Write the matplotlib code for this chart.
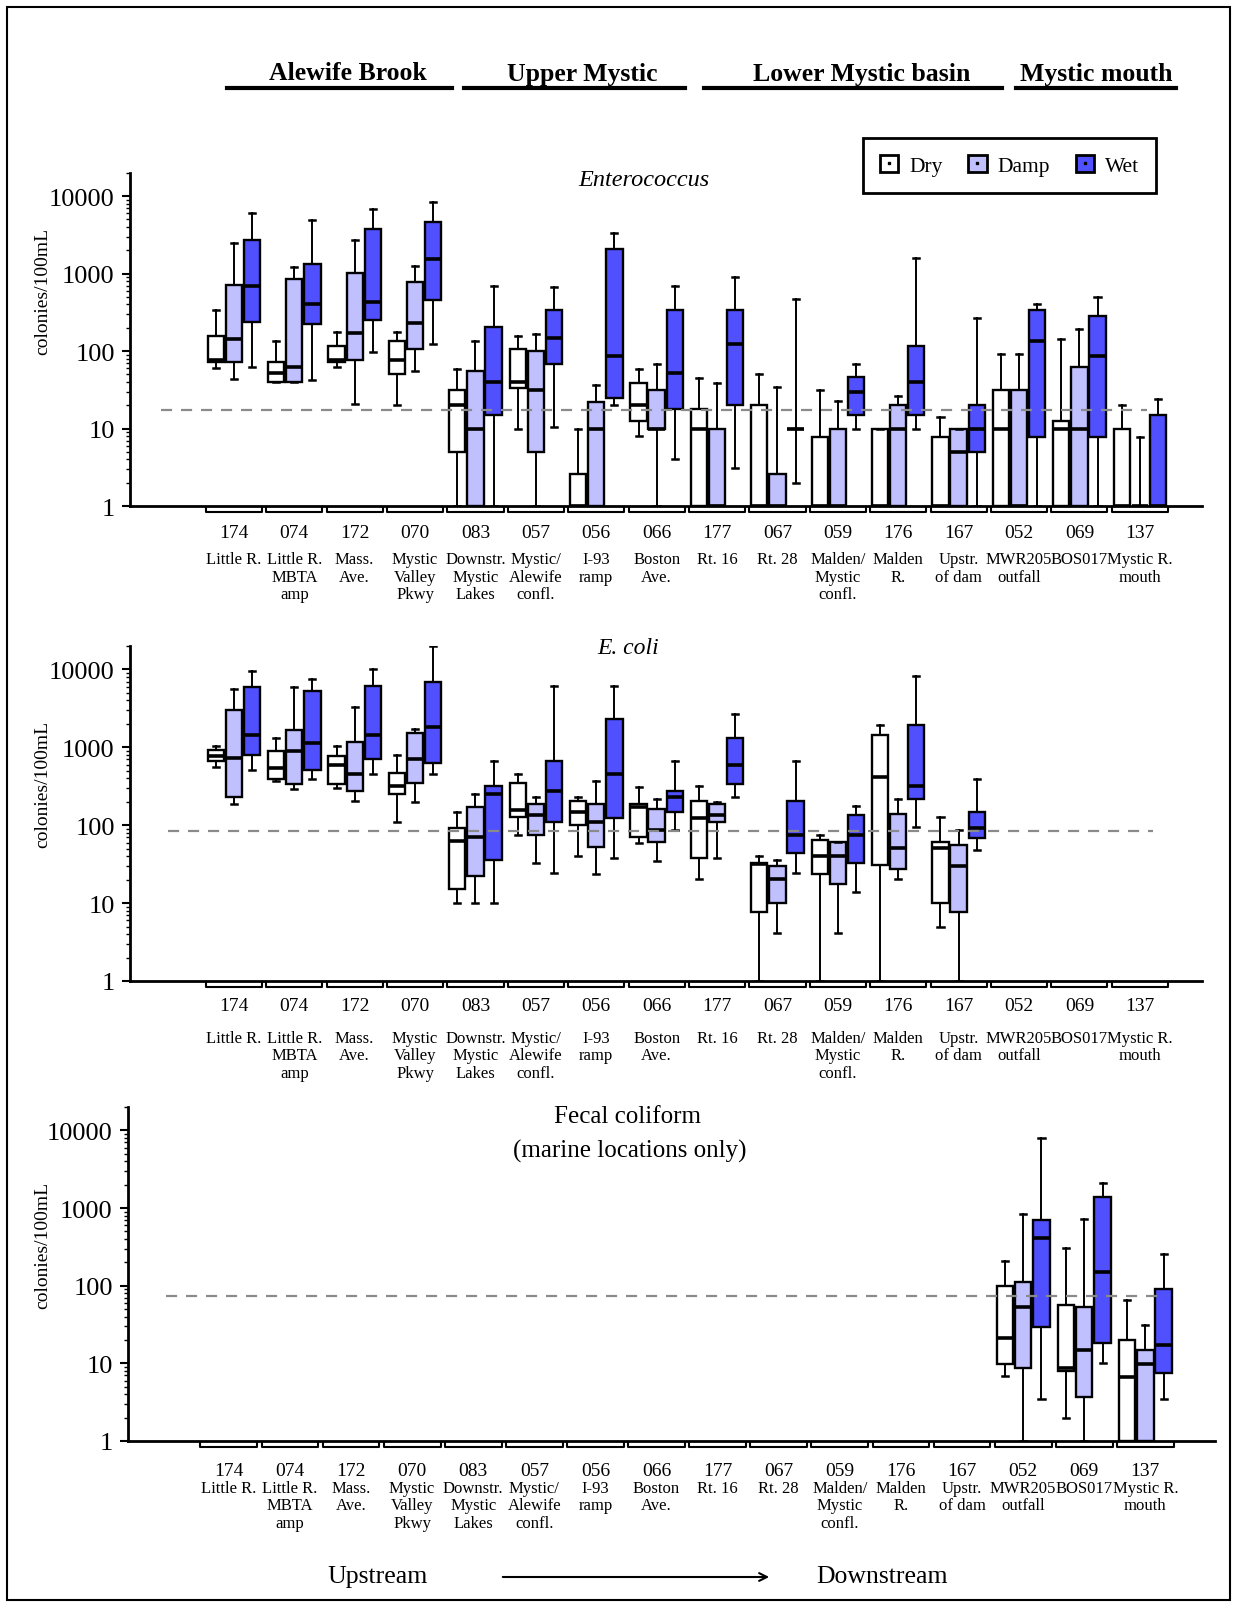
import matplotlib
matplotlib.use("Agg")
import matplotlib.pyplot as plt
from matplotlib.patches import Patch, Rectangle, FancyArrowPatch
from matplotlib.lines import Line2D
from matplotlib.legend_handler import HandlerTuple

plt.rcParams["font.family"] = ["Liberation Serif", "DejaVu Serif"]

W, H = 1233, 1608

sites = ["174", "074", "172", "070", "083", "057", "056", "066",
         "177", "067", "059", "176", "167", "052", "069", "137"]
site_names = [["Little R."], ["Little R.", "MBTA", "amp"], ["Mass.", "Ave."],
              ["Mystic", "Valley", "Pkwy"], ["Downstr.", "Mystic", "Lakes"],
              ["Mystic/", "Alewife", "confl."], ["I-93", "ramp"], ["Boston", "Ave."],
              ["Rt. 16"], ["Rt. 28"], ["Malden/", "Mystic", "confl."], ["Malden", "R."],
              ["Upstr.", "of dam"], ["MWR205", "outfall"], ["BOS017"], ["Mystic R.", "mouth"]]
conditions = ["Dry", "Damp", "Wet"]
regions = ["Alewife Brook", "Upper Mystic", "Lower Mystic basin", "Mystic mouth"]

# box stats per site: (whisker low, q1, median, q3, whisker high)
ent_dry = [(61, 73, 76, 156, 343), (40, 40, 52, 73, 134), (62, 72, 76, 116, 174),
           (20, 51, 76, 134, 174), (1, 5, 20, 31.5, 59), (10, 33, 40, 105, 156),
           (1, 1, 1, 2.55, 10), (8.1, 12.6, 20.4, 38.4, 59), (1, 1, 10, 17.8, 44.5),
           (1, 1, 1, 20.4, 51), (1, 1, 1, 7.8, 31.5), (1, 1, 1, 10, 10),
           (1, 1, 1, 7.8, 13.9), (1, 1, 10, 31.5, 91.5), (1, 1, 10, 12.6, 141),
           (1, 1, 1, 10, 20.4)]
ent_damp = [(44, 73, 141, 705, 2466), (40, 40, 62, 850, 1200), (21, 76, 172, 1025, 2722),
            (56, 105, 229, 770, 1261), (1, 1, 10, 56, 134), (1, 5, 31.5, 101, 164),
            (1, 1, 10, 22.3, 36.6), (1, 10, 10, 31.5, 69), (1, 1, 1, 10, 38.4),
            (1, 1, 1, 2.55, 34.8), (1, 1, 1, 10, 22.5), (1, 1, 10, 20.4, 25.9),
            (1, 1, 5, 10, 10), (1, 1, 1, 31.5, 91.5), (1, 1, 10, 62, 190),
            (1, 1, 1, 1, 7.8)]
ent_wet = [(62, 240, 698, 2722, 5990), (42, 220, 410, 1312, 4870), (96, 253, 435, 3800, 6810),
           (122, 452, 1536, 4630, 8290), (1, 15, 40, 207, 698), (10.4, 69, 148, 336, 671),
           (20, 25, 87, 2044, 3315), (4.06, 17.8, 52, 336, 698), (3.08, 20.4, 122, 336, 893),
           (2.0, 10, 10, 10, 475), (10, 15, 30, 46.4, 69), (10, 15, 40, 116, 1597),
           (1, 5, 10, 20.4, 263), (1, 7.8, 134, 336, 410), (1, 7.8, 87, 282, 504),
           (1, 1, 1, 15, 23.7)]

eco_dry = [(551, 664, 778, 938, 1025), (372, 390, 545, 893, 1312), (305, 336, 602, 770, 1025),
           (110, 250, 320, 470, 809), (9.9, 15.2, 62, 91, 148), (75, 128, 156, 353, 448),
           (40, 100, 148, 207, 227), (59, 71.5, 170, 188, 311), (20.4, 38, 122, 207, 320),
           (1, 7.7, 31.5, 32.8, 40), (1, 23.5, 40, 65, 75), (1, 31.2, 410, 1448, 1928),
           (5, 10, 51, 61.8, 128), None, None, None]
eco_damp = [(188, 227, 733, 2972, 5590), (290, 336, 893, 1679, 5870), (207, 276, 448, 1188, 3280),
            (197, 353, 698, 1506, 1745), (10, 22.3, 71.5, 172, 255), (32.8, 75, 134, 188, 229),
            (23.5, 53, 110, 188, 372), (34.8, 61.8, 87, 162, 218), (38, 110, 134, 188, 197),
            (4.1, 9.9, 20.4, 30, 36), (4.1, 17.6, 40, 61.8, 61.8), (20.4, 27.2, 51, 141, 218),
            (1, 7.7, 30, 56, 86), None, None, None]
eco_wet = [(519, 801, 1433, 5870, 9520), (390, 519, 1132, 5320, 7510), (448, 698, 1433, 6170, 10000),
           (448, 632, 1834, 6810, 20100), (10, 36, 250, 320, 664), (24.7, 110, 276, 664, 6170),
           (38, 122, 448, 2323, 6170), (86, 148, 231, 276, 664), (231, 336, 602, 1312, 2695),
           (24.7, 44, 75, 207, 664), (13.8, 32.8, 75, 134, 179), (95, 218, 320, 1928, 8210),
           (48.7, 68, 91.5, 148, 390), None, None, None]

fc_dry = [None] * 13 + [(6.9, 9.7, 21.4, 100, 208), (1.96, 8.0, 8.8, 55.8, 305),
                        (1, 1, 6.6, 20.2, 64.7)]
fc_damp = [None] * 13 + [(1, 8.8, 53.6, 110, 845), (1, 3.7, 15, 53, 729),
                         (1, 1, 9.7, 15, 31.2)]
fc_wet = [None] * 13 + [(3.5, 29.7, 411, 694, 7890), (10.2, 18.3, 148, 1372, 2100),
                        (3.5, 7.6, 17.4, 90.6, 253)]

ref_levels = [17.5, 84, 74]

colors = ["white", "#C0C0FF", "#5050FF"]
offsets = [-0.30, 0.0, 0.30]


def fx(px):
    return px / W


def fy(py):
    return 1 - py / H


fig = plt.figure(figsize=(W / 100, H / 100), dpi=100)


def draw_panel(rect, data, xlim, ref, ref_span, num_off, name_off):
    ax = fig.add_axes(rect)
    for series, color, off in zip(data, colors, offsets):
        stats, pos = [], []
        for i, v in enumerate(series):
            if v is None:
                continue
            lo, q1, med, q3, hi = v
            stats.append(dict(whislo=lo, q1=q1, med=med, q3=q3, whishi=hi, fliers=[]))
            pos.append(i + off)
        if stats:
            ax.bxp(stats, positions=pos, widths=0.27, capwidths=0.1, patch_artist=True,
                   showfliers=False, manage_ticks=False,
                   boxprops=dict(facecolor=color, edgecolor="black", linewidth=1.7),
                   medianprops=dict(color="black", linewidth=2.6),
                   whiskerprops=dict(color="black", linewidth=1.4),
                   capprops=dict(color="black", linewidth=1.8))
    ax.plot(ref_span, [ref, ref], color="#8a8a8a", lw=1.6, ls=(0, (5, 4)), zorder=10)

    ax.set_yscale("log")
    ax.set_ylim(1, 20000)
    ax.set_xlim(*xlim)
    ax.set_yticks([1, 10, 100, 1000, 10000])
    ax.set_yticklabels(["1", "10", "100", "1000", "10000"])
    ax.set_xticks([])
    ax.tick_params(axis="y", which="major", labelsize=19, length=6, width=1.5, pad=5)
    ax.tick_params(axis="y", which="minor", length=3, width=1)
    for s in ["top", "right"]:
        ax.spines[s].set_visible(False)
    for s in ["left", "bottom"]:
        ax.spines[s].set_linewidth(2)

    # group brackets and site labels under the axis
    tr = ax.get_xaxis_transform()
    hpx = rect[3] * H
    yb, yt = -6 / hpx, -2 / hpx
    for i in range(len(sites)):
        ax.plot([i - 0.465, i - 0.465, i + 0.465, i + 0.465], [yt, yb, yb, yt],
                transform=tr, clip_on=False, color="black", lw=1.5)
        ax.annotate(sites[i], xy=(i, 0), xycoords=tr, xytext=(0, -num_off * 0.72),
                    textcoords="offset points", ha="center", va="center", fontsize=14)
        for j, line in enumerate(site_names[i]):
            ax.annotate(line, xy=(i, 0), xycoords=tr,
                        xytext=(0, -(name_off + 17.5 * j) * 0.72),
                        textcoords="offset points", ha="center", va="center", fontsize=12)
    return ax


ax1 = draw_panel([fx(130), fy(507), fx(1202 - 130), (507 - 173.7) / H],
                 [ent_dry, ent_damp, ent_wet], (-1.72, 16.03), ref_levels[0],
                 [-1.21, 15.12], 27, 53)
ax2 = draw_panel([fx(130), fy(982), fx(1202 - 130), (982 - 647) / H],
                 [eco_dry, eco_damp, eco_wet], (-1.72, 16.03), ref_levels[1],
                 [-1.09, 15.22], 25, 57)
ax3 = draw_panel([fx(128), fy(1442), fx(1215 - 128), (1442 - 1108) / H],
                 [fc_dry, fc_damp, fc_wet], (-1.65, 16.14), ref_levels[2],
                 [-1.03, 15.29], 30, 47)

# y labels
for yc in [291, 784, 1245]:
    fig.text(fx(43), fy(yc), "colonies/100mL", rotation=90, fontsize=14,
             ha="center", va="center")

# panel titles
fig.text(fx(644), fy(180), "Enterococcus", style="italic", fontsize=17.5, ha="center", va="center")
fig.text(fx(628), fy(648), "E. coli", style="italic", fontsize=17, ha="center", va="center")
fig.text(fx(628), fy(1117), "Fecal coliform", fontsize=18, ha="center", va="center")
fig.text(fx(630), fy(1151), "(marine locations only)", fontsize=18, ha="center", va="center")

# region headers
region_spans = [(227, 452), (464, 685), (704, 1002), (1016, 1176)]
region_centers = [348, 582, 862, 1096]
for name, (x0, x1), xc in zip(regions, region_spans, region_centers):
    fig.text(fx(xc), fy(74), name, fontsize=18.5, fontweight="bold",
             ha="center", va="center")
    fig.add_artist(Line2D([fx(x0), fx(x1)], [fy(89), fy(89)], transform=fig.transFigure,
                          color="black", lw=3))

# legend
handles = [(Patch(facecolor=c, edgecolor="black", linewidth=2),
            Line2D([], [], marker="s", markersize=2, color="black", linestyle="none"))
           for c in colors]
leg = fig.legend(handles, conditions, loc="center",
                 bbox_to_anchor=(fx(1009.5), fy(166.5)), ncol=3, frameon=True,
                 fancybox=False, edgecolor="black", fontsize=15.5, handlelength=0.85,
                 handleheight=0.8, handletextpad=0.5, columnspacing=1.2, borderpad=0.8,
                 handler_map={tuple: HandlerTuple(ndivide=1)})
leg.get_frame().set_linewidth(2)
leg.get_frame().set_alpha(None)

# upstream -> downstream
fig.text(fx(378), fy(1577), "Upstream", fontsize=18.5, ha="center", va="center")
fig.text(fx(882), fy(1577), "Downstream", fontsize=18.5, ha="center", va="center")
fig.add_artist(FancyArrowPatch((fx(500), fy(1578)), (fx(772), fy(1578)),
                               transform=fig.transFigure, arrowstyle="->",
                               mutation_scale=14, lw=1.5, color="black"))

# outer frame
fig.add_artist(Rectangle((fx(7), fy(1601)), fx(1230 - 7), (1601 - 8) / H,
                         transform=fig.transFigure, fill=False, lw=1.5, ec="black"))

fig.savefig("out.png", dpi=100, facecolor="white")
